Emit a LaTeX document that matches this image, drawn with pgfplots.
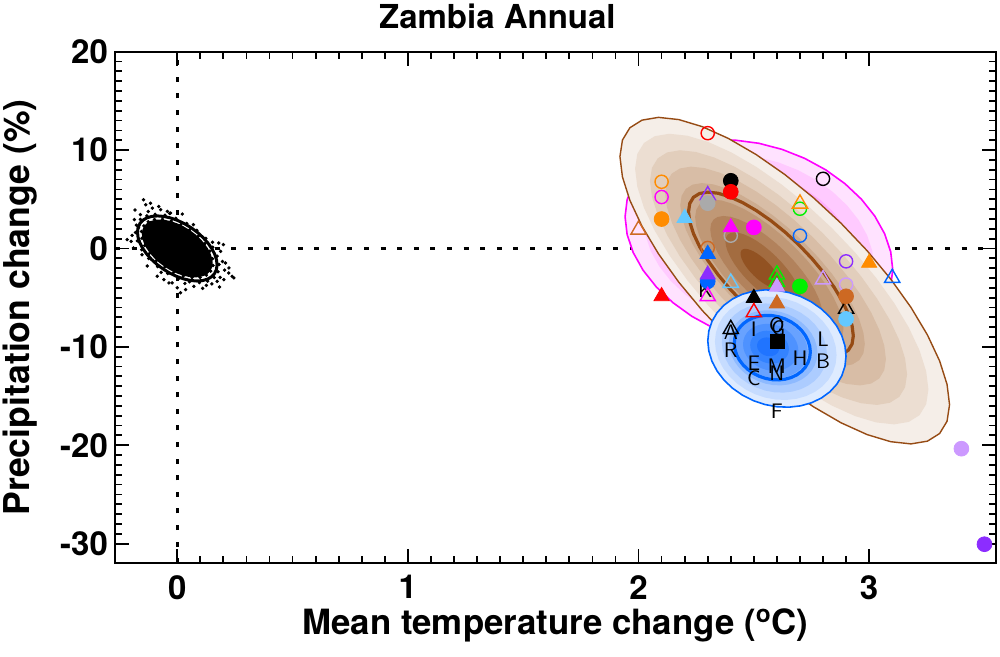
\documentclass[border=0pt]{standalone}
\usepackage{pgfplots}
\usepackage{pgfplotstable}
\usepackage{fontspec}
\pgfplotsset{compat=1.18}
\setmainfont{TeX Gyre Heros}

\definecolor{cOrange}{RGB}{255,140,0}
\definecolor{cSky}{RGB}{100,200,255}
\definecolor{cPurple}{RGB}{140,45,255}
\definecolor{cGray}{RGB}{170,170,170}
\definecolor{cChoc}{RGB}{205,105,35}
\definecolor{cGreen}{RGB}{0,240,0}
\definecolor{cBlue}{RGB}{0,102,255}
\definecolor{cLav}{RGB}{204,153,255}
\definecolor{cMag}{RGB}{255,0,255}
\definecolor{cSienna}{RGB}{150,75,20}

% brown bands (outer -> inner)
\definecolor{b1}{RGB}{245,238,232}
\definecolor{b2}{RGB}{236,222,210}
\definecolor{b3}{RGB}{226,206,188}
\definecolor{b4}{RGB}{216,189,166}
\definecolor{b5}{RGB}{205,172,144}
\definecolor{b6}{RGB}{192,152,118}
\definecolor{b7}{RGB}{178,130,92}
\definecolor{b8}{RGB}{163,108,64}
\definecolor{b9}{RGB}{146,82,34}
% magenta bands
\definecolor{m1}{RGB}{255,226,255}
\definecolor{m2}{RGB}{255,202,255}
\definecolor{m3}{RGB}{255,174,255}
\definecolor{m4}{RGB}{255,146,255}
\definecolor{m5}{RGB}{250,118,250}
\definecolor{m6}{RGB}{245,92,245}
% blue bands
\definecolor{u1}{RGB}{222,235,255}
\definecolor{u2}{RGB}{198,220,255}
\definecolor{u3}{RGB}{172,204,255}
\definecolor{u4}{RGB}{142,186,255}
\definecolor{u5}{RGB}{104,162,255}
\definecolor{u6}{RGB}{78,146,255}
\definecolor{u7}{RGB}{52,131,255}
\definecolor{u8}{RGB}{32,116,255}

\pgfplotstableread{
u v
1 0
0.9848 0.1736
0.9397 0.3420
0.8660 0.5000
0.7660 0.6428
0.6428 0.7660
0.5000 0.8660
0.3420 0.9397
0.1736 0.9848
0 1
-0.1736 0.9848
-0.3420 0.9397
-0.5000 0.8660
-0.6428 0.7660
-0.7660 0.6428
-0.8660 0.5000
-0.9397 0.3420
-0.9848 0.1736
-1 0
-0.9848 -0.1736
-0.9397 -0.3420
-0.8660 -0.5000
-0.7660 -0.6428
-0.6428 -0.7660
-0.5000 -0.8660
-0.3420 -0.9397
-0.1736 -0.9848
0 -1
0.1736 -0.9848
0.3420 -0.9397
0.5000 -0.8660
0.6428 -0.7660
0.7660 -0.6428
0.8660 -0.5000
0.9397 -0.3420
0.9848 -0.1736
1 0
}\unitcircle

% natural variability cloud
\pgfplotstableread{
x y
0.145 -2.30
0.155 -1.73
0.153 -1.04
0.141 -0.29
0.120 0.49
0.090 1.23
0.054 1.89
0.015 2.42
-0.026 2.79
-0.064 2.96
-0.099 2.94
-0.126 2.71
-0.145 2.30
-0.155 1.73
-0.153 1.04
-0.141 0.29
-0.120 -0.49
-0.090 -1.23
-0.054 -1.89
-0.015 -2.42
0.026 -2.79
0.064 -2.96
0.099 -2.94
0.126 -2.71
0.177 -2.37
0.181 -1.63
0.173 -0.78
0.154 0.12
0.124 1.02
0.085 1.84
0.041 2.54
-0.006 3.07
-0.053 3.38
-0.096 3.47
-0.132 3.32
-0.160 2.95
-0.177 2.37
-0.181 1.63
-0.173 0.78
-0.154 -0.12
-0.124 -1.02
-0.085 -1.84
-0.041 -2.54
0.006 -3.07
0.053 -3.38
0.096 -3.47
0.132 -3.32
0.160 -2.95
0.186 -2.94
0.196 -1.33
0.153 0.63
0.070 2.42
-0.033 3.56
-0.126 3.75
-0.186 2.94
-0.196 1.33
-0.153 -0.63
-0.070 -2.42
0.033 -3.56
0.126 -3.75
0.223 -2.50
0.022 3.50
-0.183 3.91
-0.130 -1.78
-0.022 -3.50
0.183 -3.91
-0.146 4.95
-0.137 4.44
-0.116 4.60
-0.080 4.27
-0.200 0.72
-0.190 0.05
-0.217 0.90
0.180 0.56
0.200 0.40
0.188 -0.29
0.209 -1.47
0.224 -1.98
0.238 -2.83
0.245 -2.99
0.202 -3.17
0.173 -3.34
0.072 -3.85
0.000 -4.00
-0.036 -3.50
-0.058 -3.17
-0.087 -2.83
0.036 -4.18
0.014 -4.50
-0.072 3.94
-0.043 3.77
-0.029 3.60
-0.108 4.10
-0.160 3.45
0.110 -4.05
0.150 -3.60
0.205 -2.20
-0.168 2.10
}\cloud

\pgfplotstableread{
x y lab
2.40 -8.55 A
2.40 -10.37 R
2.50 -8.24 I
2.60 -7.75 O
2.605 -8.15 G
2.80 -9.26 L
2.80 -11.46 B
2.70 -11.20 H
2.50 -11.62 E
2.50 -13.14 C
2.60 -11.97 M
2.60 -12.64 N
2.60 -16.53 F
2.29 -4.20 K
}\letters

\newcommand{\drawell}[8]{%
\addplot[#8] table[x expr={#1+#7*(#3*\thisrow{u}+#4*\thisrow{v})},
  y expr={#2+#7*(#5*\thisrow{u}+#6*\thisrow{v})}] {\unitcircle};}

\pgfplotsset{
  oc/.style={only marks, mark=o, mark size=3.3pt, mark options={line width=0.7pt}, color=#1},
  fc/.style={only marks, mark=*, mark size=3.7pt, color=#1, mark options={fill=#1, draw=#1}},
  ot/.style={only marks, mark=triangle, mark size=4.4pt, mark options={line width=0.7pt}, color=#1},
  ft/.style={only marks, mark=triangle*, mark size=4.4pt, color=#1, mark options={fill=#1, draw=#1}},
}

\begin{document}
\begin{tikzpicture}
\useasboundingbox (-57.5pt,-46.85pt) rectangle (442.5pt,281.65pt);
\begin{axis}[%
width=440.5pt,
height=255.8pt,
scale only axis,
xmin=-0.27, xmax=3.55,
ymin=-32, ymax=20,
xtick={0,1,2,3},
ytick={-30,-20,-10,0,10,20},
minor x tick num=9,
minor y tick num=9,
tick pos=both,
tick align=inside,
major tick length=7pt,
minor tick length=3.5pt,
tick style={line width=0.9pt, black},
axis line style={line width=1pt},
/pgf/number format/assume math mode=true,
ticklabel style={font=\bfseries\fontsize{16.5}{18}\selectfont},
xticklabel style={yshift=-2.5pt},
title={\bfseries Zambia Annual},
title style={font=\fontsize{16.5}{19}\selectfont, at={(axis description cs:0.434,1.021)}, anchor=base},
xlabel={\bfseries Mean temperature change (\textsuperscript{o}C)},
xlabel style={font=\fontsize{17.4}{20}\selectfont, at={(axis description cs:0.5,-0.140)}, anchor=base},
ylabel={\bfseries Precipitation change (\%)},
ylabel style={font=\fontsize{17.8}{20}\selectfont, at={(axis description cs:-0.0965,0.5)}, anchor=base},
]
% zero lines
\addplot[black, line width=1.3pt, dash pattern=on 2.5pt off 5.8pt] coordinates {(-0.27,0) (3.55,0)};
\addplot[black, line width=1.3pt, dash pattern=on 2.5pt off 5.8pt] coordinates {(0,-32) (0,20)};

% natural variability
\drawell{0}{0}{0.1616}{0.0605}{-2.553}{2.104}{0.89}{fill=black, draw=none}
\addplot[only marks, mark=*, mark size=0.65pt, black] table {\cloud};
\drawell{0}{0}{0.1616}{0.0605}{-2.553}{2.104}{1}{black, line width=1.5pt}

% magenta distribution
\drawell{2.522}{0.54}{0.5803}{0}{-2.69}{10.15}{1.00}{fill=m1, draw=none}
\drawell{2.522}{0.54}{0.5803}{0}{-2.69}{10.15}{0.86}{fill=m2, draw=none}
\drawell{2.522}{0.54}{0.5803}{0}{-2.69}{10.15}{0.72}{fill=m3, draw=none}
\drawell{2.522}{0.54}{0.5803}{0}{-2.69}{10.15}{0.58}{fill=m4, draw=none}
\drawell{2.522}{0.54}{0.5803}{0}{-2.69}{10.15}{0.44}{fill=m5, draw=none}
\drawell{2.522}{0.54}{0.5803}{0}{-2.69}{10.15}{0.30}{fill=m6, draw=none}
\drawell{2.522}{0.54}{0.5803}{0}{-2.69}{10.15}{1.00}{cMag, line width=0.8pt}

% brown distribution
\drawell{2.634}{-3.27}{0.7146}{0}{-12.61}{10.79}{1.00}{fill=b1, draw=none}
\drawell{2.621}{-3.11}{0.7146}{0}{-12.61}{10.79}{0.89}{fill=b2, draw=none}
\drawell{2.607}{-2.96}{0.7146}{0}{-12.61}{10.79}{0.78}{fill=b3, draw=none}
\drawell{2.594}{-2.80}{0.7146}{0}{-12.61}{10.79}{0.67}{fill=b4, draw=none}
\drawell{2.581}{-2.65}{0.7146}{0}{-12.61}{10.79}{0.56}{fill=b5, draw=none}
\drawell{2.567}{-2.49}{0.7146}{0}{-12.61}{10.79}{0.45}{fill=b6, draw=none}
\drawell{2.554}{-2.34}{0.7146}{0}{-12.61}{10.79}{0.34}{fill=b7, draw=none}
\drawell{2.541}{-2.18}{0.7146}{0}{-12.61}{10.79}{0.23}{fill=b8, draw=none}
\drawell{2.528}{-2.03}{0.7146}{0}{-12.61}{10.79}{0.12}{fill=b9, draw=none}
\drawell{2.634}{-3.27}{0.7146}{0}{-12.61}{10.79}{1.00}{cSienna, line width=0.7pt}
\drawell{2.574}{-2.57}{0.7146}{0}{-12.61}{10.79}{0.50}{cSienna, line width=1.6pt}

% blue distribution
\drawell{2.600}{-10.17}{0.2997}{0}{-0.781}{5.917}{1.00}{fill=u1, draw=none}
\drawell{2.595}{-10.15}{0.2997}{0}{-0.781}{5.917}{0.88}{fill=u2, draw=none}
\drawell{2.589}{-10.12}{0.2997}{0}{-0.781}{5.917}{0.76}{fill=u3, draw=none}
\drawell{2.584}{-10.10}{0.2997}{0}{-0.781}{5.917}{0.64}{fill=u4, draw=none}
\drawell{2.578}{-10.07}{0.2997}{0}{-0.781}{5.917}{0.52}{fill=u5, draw=none}
\drawell{2.573}{-10.05}{0.2997}{0}{-0.781}{5.917}{0.40}{fill=u6, draw=none}
\drawell{2.568}{-10.03}{0.2997}{0}{-0.781}{5.917}{0.28}{fill=u7, draw=none}
\drawell{2.562}{-10.00}{0.2997}{0}{-0.781}{5.917}{0.16}{fill=u8, draw=none}
\drawell{2.600}{-10.17}{0.2997}{0}{-0.781}{5.917}{1.00}{cBlue, line width=0.8pt}
\drawell{2.580}{-10.08}{0.2997}{0}{-0.781}{5.917}{0.55}{cBlue, line width=1.6pt}

% letters
\addplot[draw=none, mark=none, nodes near coords, point meta=explicit symbolic,
  nodes near coords style={anchor=center, inner sep=0pt, font=\sffamily\fontsize{10.5}{11}\selectfont, black}]
  table[meta=lab] {\letters};

% GCM markers
\addplot[oc=red] coordinates {(2.30,11.72)};
\addplot[oc=black] coordinates {(2.80,7.08)};
\addplot[fc=black] coordinates {(2.40,6.88)};
\addplot[fc=red] coordinates {(2.40,5.76)};
\addplot[oc=cOrange] coordinates {(2.10,6.78)};
\addplot[oc=cMag] coordinates {(2.10,5.23)};
\addplot[fc=cOrange] coordinates {(2.10,2.99)};
\addplot[ft=cSky] coordinates {(2.20,3.10)};
\addplot[ot=cPurple] coordinates {(2.30,5.40)};
\addplot[fc=cGray] coordinates {(2.30,4.60)};
\addplot[oc=cGreen] coordinates {(2.70,4.04)};
\addplot[ot=cOrange] coordinates {(2.70,4.55)};
\addplot[ot=cChoc] coordinates {(2.00,1.90)};
\addplot[oc=cGray] coordinates {(2.40,1.30)};
\addplot[ft=cMag] coordinates {(2.40,2.14)};
\addplot[fc=cMag] coordinates {(2.50,2.14)};
\addplot[oc=cBlue] coordinates {(2.70,1.30)};
\addplot[oc=cPurple] coordinates {(2.90,-1.31)};
\addplot[ft=cOrange] coordinates {(3.00,-1.47)};
\addplot[ot=cBlue] coordinates {(3.10,-3.00)};
\addplot[oc=cChoc] coordinates {(2.30,0.05)};
\addplot[ft=cBlue] coordinates {(2.30,-0.56)};
\addplot[fc=cBlue] coordinates {(2.30,-3.34)};
\addplot[ft=cPurple] coordinates {(2.30,-2.66)};
\addplot[ot=cSky] coordinates {(2.40,-3.50)};
\addplot[ot=cGreen] coordinates {(2.60,-2.66)};
\addplot[ot=cGreen] coordinates {(2.60,-3.40)};
\addplot[ft=cLav] coordinates {(2.60,-3.90)};
\addplot[ot=cLav] coordinates {(2.80,-3.15)};
\addplot[oc=cLav] coordinates {(2.90,-3.67)};
\addplot[fc=cGreen] coordinates {(2.70,-3.85)};
\addplot[ot=black] coordinates {(2.90,-6.14)};
\addplot[fc=cChoc] coordinates {(2.90,-4.86)};
\addplot[fc=cSky] coordinates {(2.90,-7.16)};
\addplot[ot=cMag] coordinates {(2.30,-4.86)};
\addplot[ft=black] coordinates {(2.50,-5.03)};
\addplot[ot=red] coordinates {(2.50,-6.49)};
\addplot[ft=cChoc] coordinates {(2.60,-5.60)};
\addplot[ft=red] coordinates {(2.10,-4.86)};
\addplot[ot=black] coordinates {(2.40,-8.20)};
\addplot[fc=cLav] coordinates {(3.40,-20.35)};
\addplot[fc=cPurple] coordinates {(3.50,-30.06)};
\addplot[only marks, mark=square*, mark size=3.5pt, black] coordinates {(2.60,-9.43)};
\end{axis}
\end{tikzpicture}
\end{document}
